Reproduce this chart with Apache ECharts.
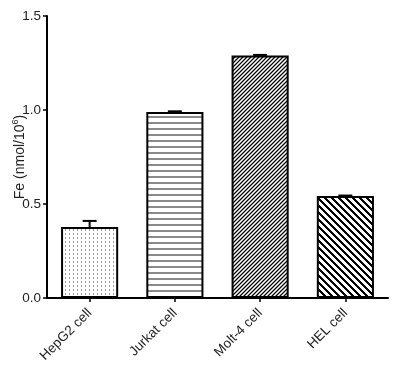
<!DOCTYPE html>
<html>
<head>
<meta charset="utf-8">
<script src="https://cdn.jsdelivr.net/npm/echarts@6/dist/echarts.min.js"></script>
<style>html,body{margin:0;padding:0;background:#fff}#c{width:401px;height:371px}</style>
</head>
<body>
<div id="c"></div>
<script>
const categories = ['HepG2 cell', 'Jurkat cell', 'Molt-4 cell', 'HEL cell'];
const values = [0.377, 0.99, 1.29, 0.543];
const errors = [0.033, 0.003, 0.003, 0.002];
const yTicks = [0, 0.5, 1.0, 1.5];

function makePattern(w, h, draw) {
  const c = document.createElement('canvas');
  c.width = w; c.height = h;
  const ctx = c.getContext('2d');
  ctx.fillStyle = '#fff';
  ctx.fillRect(0, 0, w, h);
  draw(ctx);
  return { image: c, repeat: 'repeat' };
}
const patDots = makePattern(4, 4, ctx => {
  ctx.fillStyle = '#9a9a9a';
  ctx.fillRect(1, 1, 1, 2);
});
const patHoriz = makePattern(6, 6, ctx => {
  ctx.fillStyle = '#8a8a8a';
  ctx.fillRect(0, 2, 6, 2);
});
const patMolt = makePattern(4, 4, ctx => {
  ctx.fillStyle = '#999';
  ctx.fillRect(0, 0, 4, 4);
  ctx.fillStyle = '#000';
  for (let i = 0; i < 4; i++) ctx.fillRect(i, 3 - i, 1, 1);
  ctx.fillStyle = '#fff';
  for (let i = 0; i < 4; i++) ctx.fillRect((i + 2) % 4, 3 - i, 1, 1);
});
const patHel = makePattern(7, 7, ctx => {
  ctx.fillStyle = '#000';
  for (let y = 0; y < 7; y++) {
    for (let k = 0; k < 3; k++) {
      ctx.fillRect((y + k) % 7, y, 1, 1);
    }
  }
});
const patterns = [patDots, patHoriz, patMolt, patHel];

const chart = echarts.init(document.getElementById('c'), null, { renderer: 'canvas' });
const font = 'Liberation Sans';
chart.setOption({
  animation: false,
  backgroundColor: '#fff',
  grid: { left: 47, right: 13, top: 16, bottom: 73, containLabel: false, outerBoundsMode: 'none' },
  xAxis: {
    type: 'category',
    data: categories,
    axisLine: { lineStyle: { color: '#000', width: 2 } },
    axisTick: { show: true, alignWithLabel: true, length: 4, lineStyle: { color: '#000', width: 1.5 } },
    axisLabel: { rotate: 45, fontFamily: font, fontSize: 13.5, color: '#222', margin: 13 }
  },
  yAxis: {
    type: 'value',
    min: yTicks[0], max: yTicks[yTicks.length - 1], interval: 0.5,
    name: '{a|Fe (nmol/10}{s|6}{a|)}',
    nameLocation: 'middle',
    nameGap: 20,
    nameMoveOverlap: false,
    nameRotate: 90,
    nameTextStyle: {
      rich: {
        a: { fontFamily: font, fontSize: 14, color: '#222', lineHeight: 16, verticalAlign: 'bottom' },
        s: { fontFamily: font, fontSize: 9, color: '#222', lineHeight: 16, verticalAlign: 'top' }
      }
    },
    splitLine: { show: false },
    axisLine: { show: true, lineStyle: { color: '#000', width: 2 } },
    axisTick: { show: true, length: 4, lineStyle: { color: '#000', width: 1.5 } },
    axisLabel: { fontFamily: font, fontSize: 13.5, color: '#222', margin: 6, formatter: v => v.toFixed(1) }
  },
  series: [
    {
      type: 'bar',
      barWidth: '67%',
      data: values.map((v, i) => ({ value: v, itemStyle: { color: patterns[i] } })),
      itemStyle: { borderColor: '#000', borderWidth: 2 },
      z: 2
    },
    {
      type: 'custom',
      z: 3,
      data: values.map((v, i) => [i, v, v + errors[i]]),
      renderItem: function (params, api) {
        const x = api.value(0);
        const p0 = api.coord([x, api.value(1)]);
        const p1 = api.coord([x, api.value(2)]);
        const hw = 7;
        return {
          type: 'group',
          children: [
            { type: 'line', shape: { x1: p0[0], y1: p0[1], x2: p1[0], y2: p1[1] }, style: { stroke: '#000', lineWidth: 2 } },
            { type: 'line', shape: { x1: p1[0] - hw, y1: p1[1], x2: p1[0] + hw, y2: p1[1] }, style: { stroke: '#000', lineWidth: 2 } }
          ]
        };
      }
    }
  ]
});
</script>
</body>
</html>
